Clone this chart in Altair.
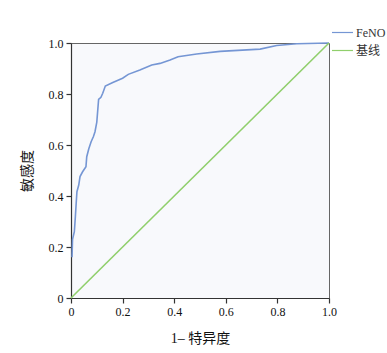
import altair as alt
import pandas as pd

fpr = [0.004, 0.006, 0.013, 0.017, 0.020, 0.023, 0.030, 0.035, 0.045, 0.058,
       0.061, 0.069, 0.078, 0.087, 0.093, 0.100, 0.107, 0.116, 0.123, 0.133,
       0.162, 0.200, 0.222, 0.267, 0.313, 0.345, 0.384, 0.415, 0.487, 0.578,
       0.733, 0.797, 0.875, 1.000]
tpr = [0.160, 0.230, 0.260, 0.320, 0.370, 0.417, 0.443, 0.476, 0.495, 0.515,
       0.554, 0.585, 0.613, 0.633, 0.652, 0.690, 0.779, 0.787, 0.803, 0.831,
       0.845, 0.862, 0.877, 0.894, 0.914, 0.920, 0.933, 0.946, 0.957, 0.967,
       0.976, 0.990, 0.997, 1.000]
base_x = [0.0, 1.0]
base_y = [0.0, 1.0]
series = ["FeNO", "基线"]
ticks = [0, 0.2, 0.4, 0.6, 0.8, 1.0]

rows = []
for i, (a, b) in enumerate(zip(fpr, tpr)):
    rows.append({"x": a, "y": b, "s": series[0], "o": i})
for i, (a, b) in enumerate(zip(base_x, base_y)):
    rows.append({"x": a, "y": b, "s": series[1], "o": i})
df = pd.DataFrame(rows)

font = "Liberation Serif, Times New Roman, DejaVu Serif, serif"
cjk = "Liberation Serif, Noto Sans CJK SC, serif"
label_expr = "datum.value == 0 ? '0' : format(datum.value, '.1f')"

chart = alt.Chart(df).mark_line(strokeWidth=1.6).encode(
    x=alt.X("x:Q", scale=alt.Scale(domain=[0, 1], nice=False),
            axis=alt.Axis(title="1– 特异度", values=ticks, labelExpr=label_expr,
                          grid=False, tickSize=5, labelPadding=3, titlePadding=14,
                          labelFlush=False, labelFont=font, titleFont=cjk)),
    y=alt.Y("y:Q", scale=alt.Scale(domain=[0, 1], nice=False),
            axis=alt.Axis(title="敏感度", values=ticks, labelExpr=label_expr,
                          grid=False, tickSize=5, labelPadding=3, titlePadding=14,
                          labelFlush=False, labelFont=font, titleFont=cjk)),
    color=alt.Color("s:N", scale=alt.Scale(domain=series, range=["#7596d4", "#90cf6c"]),
                    legend=alt.Legend(title=None, orient="none", legendX=260, legendY=-22,
                                      symbolType="stroke", symbolSize=441,
                                      symbolStrokeWidth=1.2, rowPadding=0,
                                      labelOffset=2, labelFont=cjk, labelFontSize=12,
                                      labelColor="#333333")),
    order="o:Q",
).properties(
    width=258, height=255,
    autosize=alt.AutoSizeParams(type="none"),
    padding={"left": 71, "top": 43, "right": 58, "bottom": 55},
).configure_view(
    fill="#f8f9fc", stroke="#666666", strokeWidth=1
).configure_axis(
    domainColor="#333333", tickColor="#333333", labelColor="#111111",
    titleColor="#111111", labelFontSize=12, titleFontSize=14, titleFontWeight="normal",
    domainWidth=1.2, tickWidth=1.2
)

chart.save("out.html", embed_options={"renderer": "svg", "actions": False})
